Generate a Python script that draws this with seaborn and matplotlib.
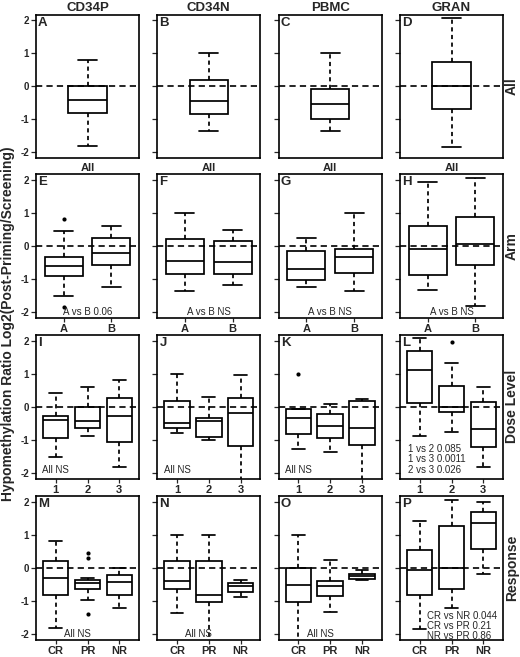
import pandas as pd
import seaborn as sns
import matplotlib.pyplot as plt

sns.set_theme(style='ticks')
plt.rcParams['font.family'] = ['Liberation Sans', 'DejaVu Sans']
plt.rcParams['lines.scale_dashes'] = False

cell_types = ['CD34P', 'CD34N', 'PBMC', 'GRAN']
row_names = ['All', 'Arm', 'Dose Level', 'Response']
row_groups = [['All'], ['A', 'B'], ['1', '2', '3'], ['CR', 'PR', 'NR']]

# [low whisker, Q1, median, Q3, high whisker] per group
A_stats = [[-1.82, -0.81, -0.41, 0.0, 0.79]]
B_stats = [[-1.36, -0.84, -0.44, 0.20, 1.0]]
C_stats = [[-1.35, -1.0, -0.53, -0.08, 1.0]]
D_stats = [[-1.84, -0.68, 0.0, 0.74, 2.08]]
E_stats = [[-1.53, -0.91, -0.61, -0.34, 0.44], [-1.24, -0.58, -0.21, 0.24, 0.60]]
F_stats = [[-1.37, -0.85, -0.47, 0.20, 1.0], [-1.20, -0.87, -0.48, 0.13, 0.48]]
G_stats = [[-1.26, -1.03, -0.71, -0.16, 0.23], [-1.38, -0.83, -0.34, -0.09, 1.0]]
H_stats = [[-1.34, -0.90, -0.09, 0.61, 1.95], [-1.83, -0.59, 0.06, 0.87, 2.06]]
I_stats = [[-1.53, -0.96, -0.40, -0.28, 0.43], [-0.89, -0.66, -0.44, 0.0, 0.61],
           [-1.82, -1.06, -0.28, 0.27, 0.81]]
J_stats = [[-0.79, -0.64, -0.49, 0.17, 0.98], [-1.01, -0.92, -0.44, -0.35, 0.31],
           [-2.4, -1.20, -0.18, 0.27, 0.96]]
K_stats = [[-1.27, -0.82, -0.33, -0.08, -0.08], [-1.37, -0.94, -0.59, -0.21, 0.07],
           [-2.4, -1.17, -0.64, 0.17, 0.25]]
L_stats = [[-0.88, 0.10, 1.13, 1.70, 2.10], [-0.76, -0.17, 0.0, 0.62, 1.33],
           [-1.82, -1.23, -0.69, 0.15, 0.61]]
M_stats = [[-1.84, -0.82, -0.31, 0.20, 0.82], [-0.97, -0.66, -0.47, -0.36, -0.30],
           [-1.23, -0.82, -0.42, -0.21, -0.01]]
N_stats = [[-1.37, -0.64, -0.41, 0.22, 0.99], [-2.4, -1.05, -0.82, 0.19, 0.99],
           [-0.90, -0.74, -0.54, -0.46, -0.36]]
O_stats = [[-2.4, -1.05, -0.52, 0.0, 1.0], [-1.35, -0.85, -0.54, -0.39, 0.25],
           [-0.37, -0.34, -0.24, -0.19, -0.08]]
P_stats = [[-1.85, -0.84, -0.06, 0.54, 1.41], [-1.22, -0.66, 0.0, 1.28, 2.07],
           [-0.18, 0.58, 1.35, 1.68, 1.99]]

# outlying points (group, value)
E_out = [('A', 0.80), ('A', -1.86)]
K_out = [('1', 1.0)]
L_out = [('2', 1.97)]
M_out = [('PR', 0.45), ('PR', 0.31), ('PR', -1.40)]

# p-value notes
arm_notes = ['A vs B 0.06', 'A vs B NS', 'A vs B NS', 'A vs B NS']
L_notes = ['1 vs 2 0.085', '1 vs 3 0.0011', '2 vs 3 0.026']
P_notes = ['CR vs NR 0.044', 'CR vs PR 0.21', 'NR vs PR 0.86']

stats = [A_stats, B_stats, C_stats, D_stats, E_stats, F_stats, G_stats, H_stats,
         I_stats, J_stats, K_stats, L_stats, M_stats, N_stats, O_stats, P_stats]
outliers = {'E': E_out, 'K': K_out, 'L': L_out, 'M': M_out}
letters = 'ABCDEFGHIJKLMNOP'

W, H = 520, 657
fig = plt.figure(figsize=(W / 100, H / 100), dpi=100)
col_left = [36, 157.3, 278.7, 400]
row_top = [14.5, 174, 335, 496]
pw, ph = 103, 143.5

for r in range(4):
    groups = row_groups[r]
    n = len(groups)
    for c in range(4):
        k = r * 4 + c
        ax = fig.add_axes([col_left[c] / W, 1 - (row_top[r] + ph) / H, pw / W, ph / H])
        rows = []
        for g, s in zip(groups, stats[k]):
            for v in s:
                rows.append({'group': g, 'value': v})
        df = pd.DataFrame(rows)
        sns.boxplot(data=df, x='group', y='value', order=groups, ax=ax, whis=(0, 100),
                    width=0.8, color='white', linecolor='black', linewidth=1.25,
                    fliersize=0, saturation=1,
                    whiskerprops=dict(linestyle=(0, (3, 2.5))))
        if letters[k] in outliers:
            od = pd.DataFrame(outliers[letters[k]], columns=['group', 'value'])
            sns.stripplot(data=od, x='group', y='value', order=groups, ax=ax,
                          jitter=False, color='black', size=3)
        ax.axhline(0, color='black', lw=1.2, ls=(0, (4.5, 3)), zorder=5)

        ax.set_ylim(-2.18, 2.18)
        if n == 1:
            ax.set_xlim(-1.08, 1.08)
        else:
            ax.set_xlim(-0.5 - 0.04 * n, n - 0.5 + 0.04 * n)
        ax.set_yticks([-2, -1, 0, 1, 2])
        ax.set_yticklabels(['-2', '-1', '0', '1', '2'], fontweight='bold', fontsize=7)
        ax.tick_params(axis='y', length=3.5, width=0.9, pad=1.5, labelleft=(c == 0))
        ax.set_ylabel('')
        if r == 0:
            ax.set_xticks([])
            ax.set_xlabel('All', fontweight='bold', fontsize=8, labelpad=3.5)
        else:
            ax.set_xticks(range(n))
            ax.set_xticklabels(groups, fontweight='bold', fontsize=8)
            ax.tick_params(axis='x', length=3, width=0.9, pad=1.5)
            ax.set_xlabel('')
        for sp in ax.spines.values():
            sp.set_visible(True)
            sp.set_color('black')
            sp.set_linewidth(1.2)

        ax.text(0.02, 0.985, letters[k], transform=ax.transAxes, ha='left', va='top',
                fontsize=9.5, fontweight='bold')

        if r == 1:
            ax.text(0.5, -2.0, arm_notes[c], ha='center', va='center', fontsize=7)
        if r == 2:
            if c < 3:
                ax.text(0, -1.91, 'All NS', ha='center', va='center', fontsize=7)
            else:
                for i, t in enumerate(L_notes):
                    ax.text(-0.37, -1.27 - 0.32 * i, t, ha='left', va='center', fontsize=7)
        if r == 3:
            if c < 3:
                ax.text(0.68, -2.0, 'All NS', ha='center', va='center', fontsize=7)
            else:
                for i, t in enumerate(P_notes):
                    ax.text(0.23, -1.46 - 0.30 * i, t, ha='left', va='center', fontsize=7)

for c in range(4):
    fig.text((col_left[c] + pw / 2) / W, 1 - 11 / H, cell_types[c], ha='center',
             va='baseline', fontsize=9.5, fontweight='bold')
for r in range(4):
    fig.text(512 / W, 1 - (row_top[r] + ph / 2) / H, row_names[r], rotation=90,
             ha='center', va='center', fontsize=10, fontweight='bold')
fig.text(8 / W, 1 - 324 / H, 'Hypomethylation Ratio Log2(Post-Priming/Screening)',
         rotation=90, ha='center', va='center', fontsize=10, fontweight='bold')

fig.savefig('out.png', dpi=100)
